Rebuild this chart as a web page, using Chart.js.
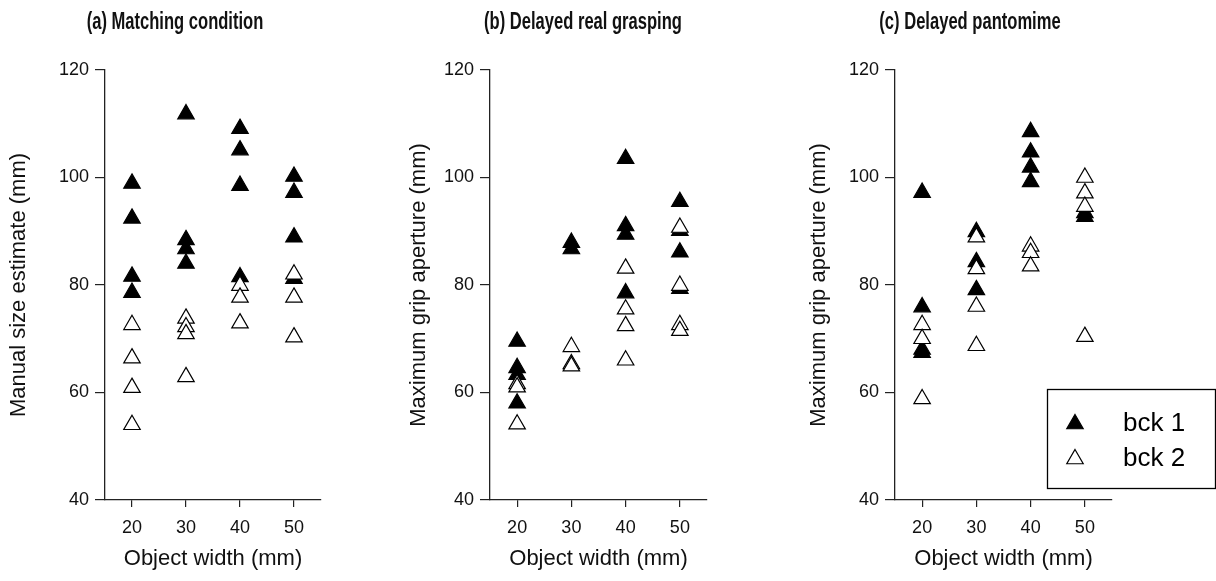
<!DOCTYPE html>
<html>
<head>
<meta charset="utf-8">
<script src="https://cdn.jsdelivr.net/npm/chart.js@4.4.1/dist/chart.umd.min.js"></script>
<style>
html,body{margin:0;padding:0;background:#fff;}
body{width:1216px;height:581px;position:relative;overflow:hidden;}
.pane{position:absolute;top:0;}
canvas{display:block;}
</style>
</head>
<body>
<div class="pane" style="left:0px"><canvas id="ca" width="350" height="581"></canvas></div>
<div class="pane" style="left:400px"><canvas id="cb" width="366" height="581"></canvas></div>
<div class="pane" style="left:724px"><canvas id="cc" width="492" height="581"></canvas></div>
<script>
// ---- data ----
const widths = [20, 30, 40, 50];           // object widths (mm), x categories
const xTicks = [20, 30, 40, 50];
const yTicks = [40, 60, 80, 100, 120];
const seriesNames = ['bck 1', 'bck 2'];
const panelTitles = ['(a) Matching condition', '(b) Delayed real grasping', '(c) Delayed pantomime'];
const yTitles = ['Manual size estimate (mm)', 'Maximum grip aperture (mm)', 'Maximum grip aperture (mm)'];
const xTitle = 'Object width (mm)';

// (a) matching: values per width 20,30,40,50
const matchBck1 = [[98.9, 92.4, 81.6, 78.6], [111.8, 88.4, 86.7, 84.0], [109.1, 105.1, 98.5, 81.5], [100.2, 97.2, 88.9, 81.2]];
const matchBck2 = [[72.6, 66.4, 60.9, 54.0], [73.8, 72.2, 70.9, 62.9], [79.9, 77.7, 72.9], [82.0, 77.7, 70.3]];
// (b) delayed real grasping
const graspBck1 = [[69.5, 64.6, 63.3, 58.0], [87.9, 86.7], [103.5, 91.0, 89.4, 78.5], [95.5, 90.1, 86.1, 79.3]];
const graspBck2 = [[61.6, 61.0, 54.1], [68.5, 65.3, 64.9], [83.1, 75.5, 72.4, 66.0], [90.7, 79.9, 72.6, 71.5]];
// (c) delayed pantomime
const pantoBck1 = [[97.2, 75.9, 68.0, 67.4], [89.9, 84.3, 79.1], [108.5, 104.7, 101.9, 99.2], [93.4, 92.7]];
const pantoBck2 = [[72.6, 70.0, 58.8], [88.9, 83.0, 76.0, 68.7], [87.2, 86.0, 83.5], [100.0, 97.1, 94.6, 70.4]];

function toPoints(groups) {
  const pts = [];
  groups.forEach((vals, i) => vals.forEach(v => pts.push({x: widths[i], y: v})));
  return pts;
}

const FONT = "'Liberation Sans', Arial, Helvetica, sans-serif";

// condensed bold panel title drawn as text
const panelTitle = {
  id: 'panelTitle',
  afterDraw(chart, args, opts) {
    if (!opts || !opts.text) return;
    const ctx = chart.ctx;
    ctx.save();
    ctx.font = 'bold ' + opts.size + 'px ' + FONT;
    ctx.fillStyle = '#111';
    ctx.textAlign = 'center';
    ctx.textBaseline = 'middle';
    ctx.translate(opts.x, opts.y);
    ctx.scale(opts.sx, 1);
    ctx.fillText(opts.text, 0, 0);
    ctx.restore();
  }
};

const boxLegend = {
  id: 'boxLegend',
  afterDraw(chart, args, opts) {
    if (!opts || !opts.show) return;
    const ctx = chart.ctx;
    ctx.save();
    ctx.strokeStyle = '#000';
    ctx.lineWidth = 1.3;
    ctx.strokeRect(opts.x, opts.y, opts.w, opts.h);
    ctx.font = opts.fontSize + 'px ' + FONT;
    ctx.textBaseline = 'middle';
    ctx.textAlign = 'left';
    chart.data.datasets.slice().sort((a, b) => a.legendIndex - b.legendIndex).forEach((ds, i) => {
      const cy = opts.rowY[i];
      ctx.fillStyle = ds.backgroundColor;
      ctx.strokeStyle = ds.borderColor;
      ctx.lineWidth = ds.borderWidth;
      Chart.helpers.drawPoint(ctx, {pointStyle: 'triangle', radius: ds.pointRadius, borderWidth: ds.borderWidth, rotation: 0}, opts.markerX, cy);
      ctx.fillStyle = '#000';
      ctx.fillText(ds.label, opts.textX, cy);
    });
    ctx.restore();
  }
};

function makePanel(id, idx, b1, b2, g) {
  const ctx = document.getElementById(id);
  return new Chart(ctx, {
    type: 'scatter',
    data: {
      datasets: [
        {label: seriesNames[0], legendIndex: 0, data: toPoints(b1), pointStyle: 'triangle', pointRadius: 9.5, pointHoverRadius: 9.5,
         backgroundColor: '#000', borderColor: '#000', borderWidth: 1.2, order: 2},
        {label: seriesNames[1], legendIndex: 1, data: toPoints(b2), pointStyle: 'triangle', pointRadius: 9.5, pointHoverRadius: 9.5,
         backgroundColor: '#fff', borderColor: '#000', borderWidth: 1.2, order: 1}
      ]
    },
    options: {
      responsive: false,
      animation: false,
      events: [],
      layout: {padding: {left: 0, right: g.padRight, top: 70, bottom: 0}},
      plugins: {
        legend: {display: false},
        tooltip: {enabled: false},
        title: {display: false},
        panelTitle: {text: panelTitles[idx], x: g.titleX, y: 23, size: 23, sx: 0.72},
        boxLegend: g.legend || {show: false}
      },
      scales: {
        x: {
          type: 'linear', min: 15, max: 55,
          afterBuildTicks: s => { s.ticks = xTicks.map(v => ({value: v})); },
          afterFit: s => { s.height = 81; },
          grid: {display: true, drawOnChartArea: false, drawTicks: true, tickLength: 7, color: '#222', lineWidth: 1.2},
          border: {display: true, color: '#222', width: 1.3},
          ticks: {color: '#111', font: {family: FONT, size: 18}, padding: 10, maxRotation: 0},
          title: {display: true, text: xTitle, color: '#111', font: {family: FONT, size: 22}, padding: {top: 0, bottom: 9}}
        },
        y: {
          type: 'linear', min: 40, max: 120,
          afterBuildTicks: s => { s.ticks = yTicks.map(v => ({value: v})); },
          afterFit: s => { s.width = g.yWidth; },
          grid: {display: true, drawOnChartArea: false, drawTicks: true, tickLength: 10, color: '#222', lineWidth: 1.2},
          border: {display: true, color: '#222', width: 1.3},
          ticks: {color: '#111', font: {family: FONT, size: 18}, padding: 6},
          title: {display: true, text: yTitles[idx], color: '#111', font: {family: FONT, size: 22}, padding: {top: g.yTitlePad, bottom: 0}}
        }
      }
    },
    plugins: [boxLegend, panelTitle]
  });
}

makePanel('ca', 0, matchBck1, matchBck2, {yWidth: 105, padRight: 29, yTitlePad: 6, titleX: 175});
makePanel('cb', 1, graspBck1, graspBck2, {yWidth: 90, padRight: 59, yTitlePad: 6, titleX: 183});
makePanel('cc', 2, pantoBck1, pantoBck2, {yWidth: 171, padRight: 104, yTitlePad: 82, titleX: 246,
  legend: {show: true, x: 323.5, y: 389.5, w: 168, h: 99, markerX: 351, rowY: [424, 459], textX: 399, fontSize: 26}});
</script>
</body>
</html>
